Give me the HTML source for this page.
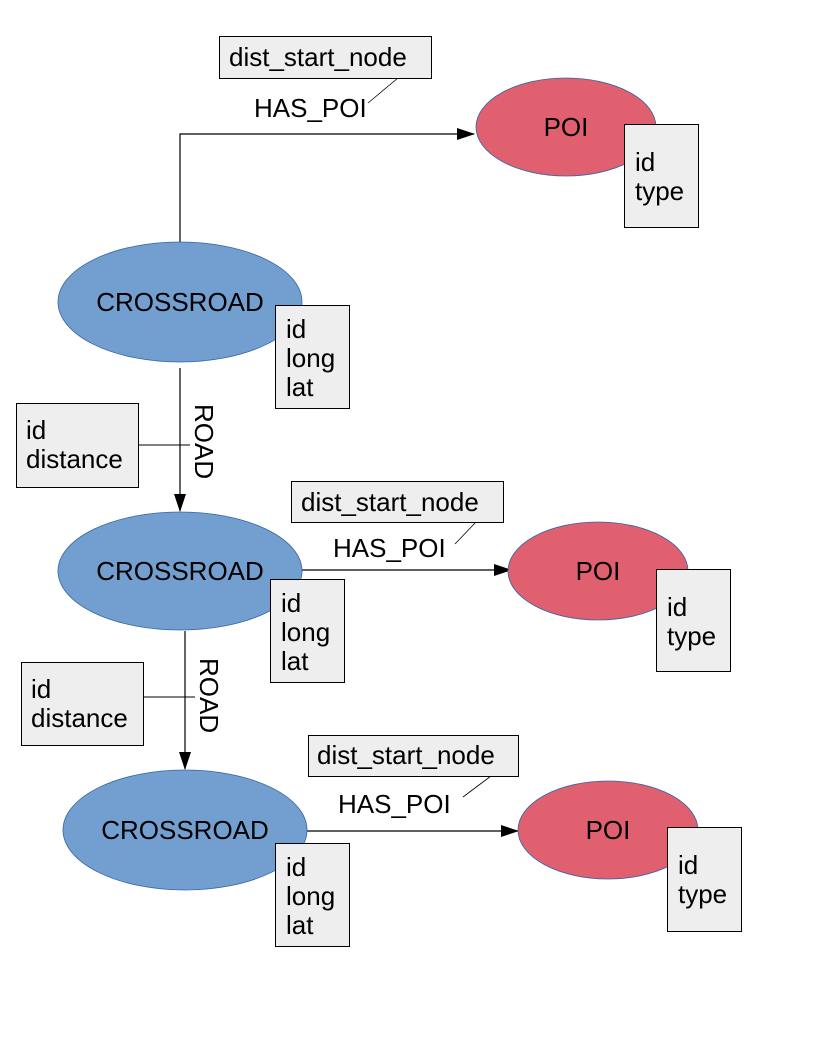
<!DOCTYPE html>
<html><head><meta charset="utf-8"><style>
html,body{margin:0;padding:0;background:#fff;}
svg{display:block;}
text{font-family:"Liberation Sans",sans-serif;font-size:26px;fill:#000;}
</style></head><body>
<svg width="816" height="1056" viewBox="0 0 816 1056" xmlns="http://www.w3.org/2000/svg">
<defs>
<marker id="a" markerWidth="18" markerHeight="12" refX="17" refY="6" orient="auto" markerUnits="userSpaceOnUse">
<path d="M0,0 L18,6 L0,12 Z" fill="#000"/></marker>
</defs>
<g fill="none" stroke="#000" stroke-width="1.2">
<polyline points="180,242 180,134 474,134" marker-end="url(#a)"/>
<line x1="180" y1="368" x2="180" y2="511" marker-end="url(#a)"/>
<line x1="185" y1="631" x2="185" y2="769" marker-end="url(#a)"/>
<line x1="302" y1="570" x2="511" y2="570" marker-end="url(#a)"/>
<line x1="302" y1="831" x2="518" y2="831" marker-end="url(#a)"/>
<line x1="138" y1="445" x2="190" y2="445" stroke-width="1"/>
<line x1="143" y1="697" x2="195" y2="697" stroke-width="1"/>
<line x1="398" y1="78" x2="368" y2="103" stroke-width="0.8"/>
<line x1="476" y1="522" x2="455" y2="544" stroke-width="0.8"/>
<line x1="491" y1="776" x2="463" y2="797" stroke-width="0.8"/>
</g>
<g stroke="#3465a4" stroke-width="0.8">
<ellipse cx="180" cy="302" rx="122" ry="60" fill="#729fcf"/>
<ellipse cx="180" cy="571" rx="122" ry="59" fill="#729fcf"/>
<ellipse cx="185" cy="830" rx="122" ry="60" fill="#729fcf"/>
<ellipse cx="566" cy="127" rx="90" ry="49" fill="#e06070"/>
<ellipse cx="598" cy="571" rx="90" ry="49" fill="#e06070"/>
<ellipse cx="608" cy="830" rx="90" ry="49" fill="#e06070"/>
</g>
<g text-anchor="middle">
<text x="180" y="311">CROSSROAD</text>
<text x="180" y="580">CROSSROAD</text>
<text x="185" y="839">CROSSROAD</text>
<text x="566" y="136">POI</text>
<text x="598" y="580">POI</text>
<text x="608" y="839">POI</text>
</g>
<g fill="#eeeeee" stroke="#000" stroke-width="1">
<rect x="219.5" y="36.5" width="212" height="42"/>
<rect x="291.5" y="481.5" width="212" height="41"/>
<rect x="308.5" y="735.5" width="210" height="41"/>
<rect x="624.5" y="124.5" width="74" height="103"/>
<rect x="656.5" y="569.5" width="74" height="102"/>
<rect x="667.5" y="827.5" width="74" height="104"/>
<rect x="275.5" y="305.5" width="74" height="103"/>
<rect x="270.5" y="579.5" width="74" height="103"/>
<rect x="275.5" y="843.5" width="74" height="103"/>
<rect x="16.5" y="403.5" width="122" height="84"/>
<rect x="21.5" y="662.5" width="122" height="83"/>
</g>
<text x="229" y="66">dist_start_node</text>
<text x="301" y="511">dist_start_node</text>
<text x="317" y="764">dist_start_node</text>
<text x="254" y="117">HAS_POI</text>
<text x="333" y="557">HAS_POI</text>
<text x="338" y="813">HAS_POI</text>
<text x="635" y="171">id</text><text x="635" y="200">type</text>
<text x="667" y="616">id</text><text x="667" y="645">type</text>
<text x="678" y="874">id</text><text x="678" y="903">type</text>
<text x="286" y="338">id</text><text x="286" y="367">long</text><text x="286" y="396">lat</text>
<text x="281" y="612">id</text><text x="281" y="641">long</text><text x="281" y="670">lat</text>
<text x="286" y="876">id</text><text x="286" y="905">long</text><text x="286" y="934">lat</text>
<text x="26" y="439">id</text><text x="26" y="468">distance</text>
<text x="31" y="698">id</text><text x="31" y="727">distance</text>
<text transform="translate(195,404) rotate(90)">ROAD</text>
<text transform="translate(200,658) rotate(90)">ROAD</text>
</svg>
</body></html>
